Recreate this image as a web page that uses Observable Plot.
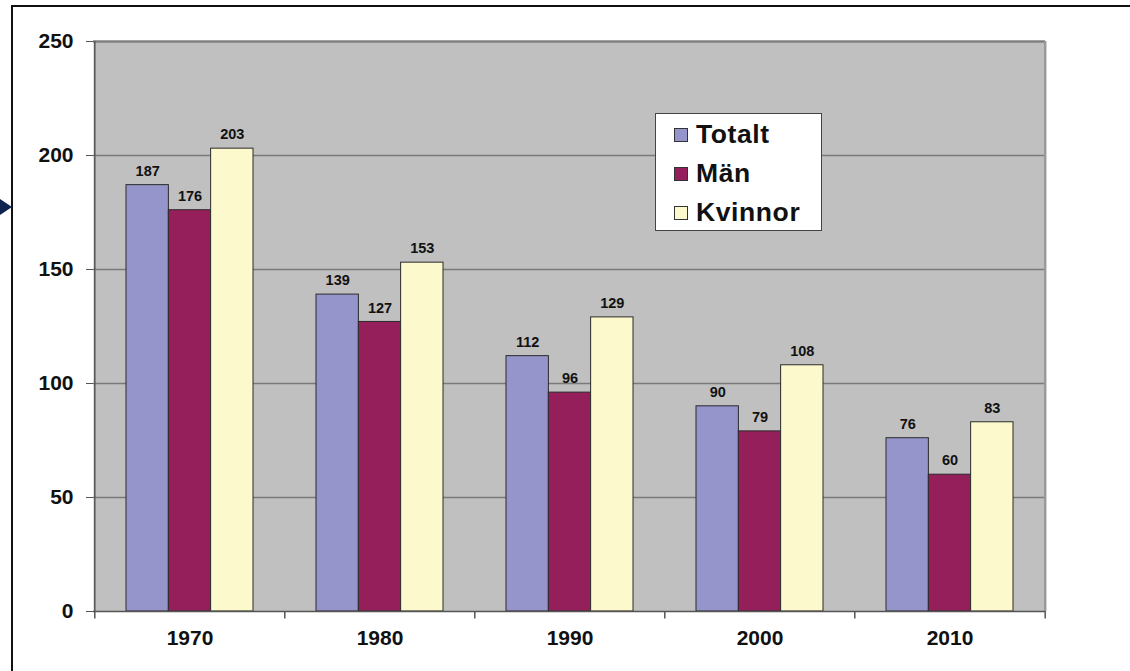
<!DOCTYPE html>
<html><head><meta charset="utf-8">
<script src="https://cdn.jsdelivr.net/npm/d3@7"></script>
<script src="https://cdn.jsdelivr.net/npm/@observablehq/plot@0.6"></script>
<style>
html,body{margin:0;padding:0;background:#fff;}
#wrap{position:relative;width:1130px;height:671px;overflow:hidden;font-family:"Liberation Sans",Arial,sans-serif;}
#wrap svg{position:absolute;left:0;top:0;}
#border{position:absolute;left:11px;top:5px;width:1200px;height:800px;border-left:2px solid #111;border-top:2px solid #111;}
#arrow{position:absolute;left:0;top:199px;width:0;height:0;border-top:8px solid transparent;border-bottom:8px solid transparent;border-left:12px solid #0e2350;}
#legend{position:absolute;left:655px;top:113px;width:167px;height:118px;background:#fff;border:1.5px solid #444;box-sizing:border-box;}
.li{position:absolute;left:18px;display:flex;align-items:center;font-weight:bold;font-size:26.5px;color:#111;letter-spacing:0.6px;}
.sw{width:14px;height:14px;border:1px solid #333;margin-right:8px;box-sizing:border-box;}
</style></head>
<body><div id="wrap"><div id="border"></div><div id="arrow"></div></div>
<script>
const years = ["1970","1980","1990","2000","2010"];
const seriesNames = ["Totalt","Män","Kvinnor"];
const totalt = [187,139,112,90,76];
const man = [176,127,96,79,60];
const kvinnor = [203,153,129,108,83];
const colors = ["#9595CB","#951F5A","#FCF9CC"];
const yTicks = [0,50,100,150,200,250];

const seriesValues = [totalt, man, kvinnor];
const rows = [];
seriesNames.forEach((s,i)=>years.forEach((y,j)=>rows.push({year:y, series:s, idx:i, value:seriesValues[i][j]})));

const W = 1130, H = 671, mL = 93, mR = 85, mT = 41, mB = 60;
const step = (W - mL - mR) / years.length;
const padIn = 1/3;
const bw = step * (1 - padIn);
const sub = bw / 3;

const marks = [
  Plot.frame({fill:"#C0C0C0", stroke:null}),
  Plot.gridY([50,100,150,200], {stroke:"#7a7a7a", strokeOpacity:1, strokeWidth:1.3}),
  Plot.ruleY([250], {stroke:"#808080", strokeWidth:2.5}),
  Plot.ruleX([years[years.length-1]], {x:d=>d, dx: step/2, y1:0, y2:250, stroke:"#9a9a9a", strokeWidth:2.5}),
];
seriesNames.forEach((s,i)=>{
  const d = rows.filter(r=>r.series===s);
  marks.push(Plot.barY(d, {x:"year", y:"value", fill:colors[i], stroke:"#2a2a2a", strokeWidth:1,
    insetLeft: i*sub, insetRight:(2-i)*sub}));
  marks.push(Plot.text(d, {x:"year", y:"value", text:d=>String(d.value), dx:(i-1)*sub, dy:-14,
    fontSize:14.5, fontWeight:"bold", fill:"#111"}));
});
marks.push(
  Plot.ruleX([years[0]], {x:d=>d, dx:-step/2, y1:0, y2:250, stroke:"#555", strokeWidth:1.5}),
  Plot.ruleY([0], {stroke:"#555", strokeWidth:1.5}),
  Plot.ruleX(years, {x:d=>d, dx:-step/2, y1:0, y2:-3.3, stroke:"#555", strokeWidth:1.5}),
  Plot.ruleX([years[years.length-1]], {x:d=>d, dx:step/2, y1:0, y2:-3.3, stroke:"#555", strokeWidth:1.5}),
  Plot.axisY({ticks:yTicks, tickSize:7, tickPadding:13, fontSize:21, fontWeight:"bold", fill:"#111", stroke:"#555", label:null}),
  Plot.axisX({tickSize:0, tickPadding:19, fontSize:21, fontWeight:"bold", fill:"#111", label:null})
);

const chart = Plot.plot({
  width: W, height: H,
  marginLeft: mL, marginRight: mR, marginTop: mT, marginBottom: mB,
  style: {fontFamily:"'Liberation Sans', Arial, sans-serif", background:"transparent", overflow:"visible"},
  x: {type:"band", domain: years, paddingInner: padIn, paddingOuter: padIn/2},
  y: {domain:[0,250]},
  marks
});
const wrap = document.getElementById("wrap");
wrap.insertBefore(chart, wrap.firstChild);

const legend = document.createElement("div");
legend.id = "legend";
seriesNames.forEach((s,i)=>{
  const it = document.createElement("div");
  it.className = "li";
  it.style.top = (5 + i*39) + "px";
  const sw = document.createElement("span");
  sw.className = "sw";
  sw.style.background = colors[i];
  it.appendChild(sw);
  it.appendChild(document.createTextNode(s));
  legend.appendChild(it);
});
wrap.appendChild(legend);
</script>
</body></html>
